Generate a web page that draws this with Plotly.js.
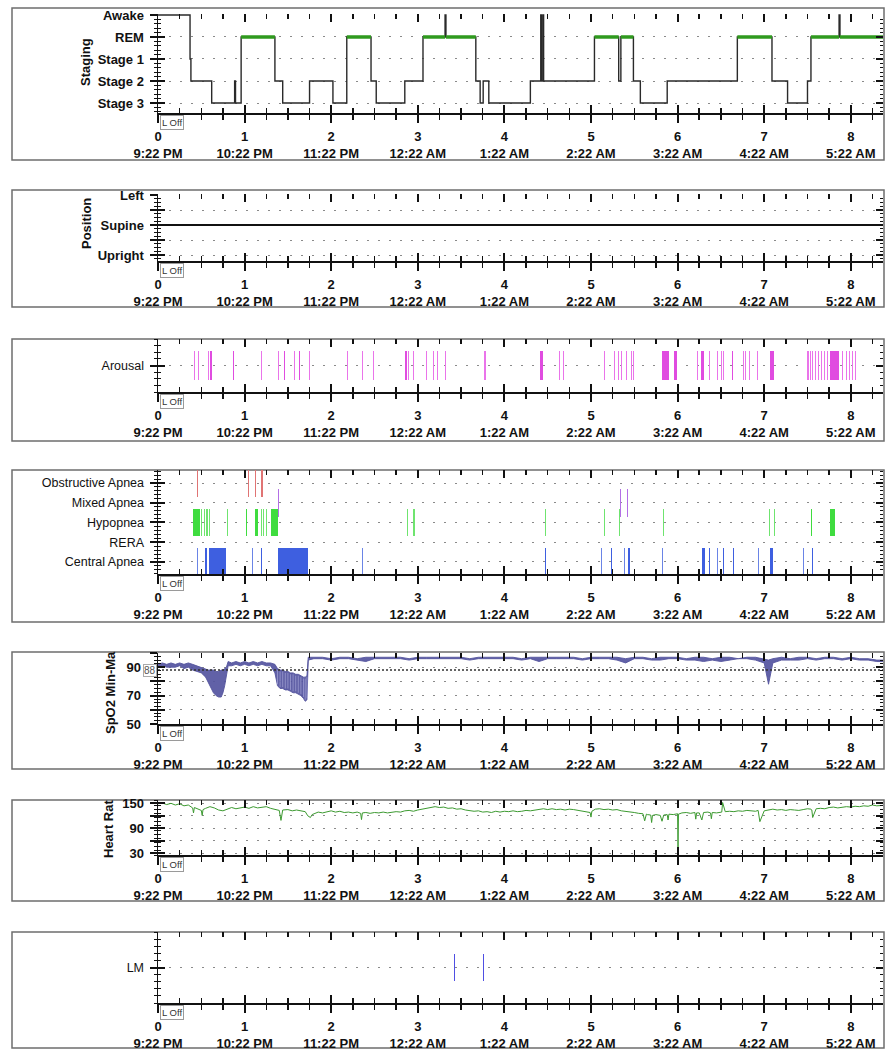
<!DOCTYPE html>
<html><head><meta charset="utf-8">
<script src="https://cdn.plot.ly/plotly-3.0.1.min.js"></script>
<style>html,body{margin:0;padding:0;background:#fff}#chart{width:886px;height:1050px}</style>
</head><body><div id="chart"></div>
<script>
// ---------- shared time axis ----------
const hourTicks = [0,1,2,3,4,5,6,7,8];
const clockLabels = ['9:22 PM','10:22 PM','11:22 PM','12:22 AM','1:22 AM','2:22 AM','3:22 AM','4:22 AM','5:22 AM'];
const recordEnd = 8.372;

// ---------- staging ----------
const stagingLabels = ['Stage 3','Stage 2','Stage 1','REM','Awake'];
const stageTimes = [0,0.37,0.38,0.62,0.885,0.895,0.96,1.35,1.44,1.75,2.02,2.18,2.46,2.52,2.85,3.06,3.315,3.325,3.67,3.72,3.755,3.82,4.30,4.42,4.428,4.445,4.453,5.04,5.32,5.345,5.49,5.57,5.88,6.69,7.09,7.27,7.50,7.54,7.865,7.875,8.372];
const stageNames = ['Awake','Stage 1','Stage 2','Stage 3','Stage 2','Stage 3','REM','Stage 2','Stage 3','Stage 2','Stage 3','REM','Stage 2','Stage 3','Stage 2','REM','Awake','REM','Stage 2','Stage 3','Stage 2','Stage 3','Stage 2','Awake','Stage 2','Awake','Stage 2','REM','Stage 2','REM','Stage 2','Stage 3','Stage 2','REM','Stage 2','Stage 3','Stage 2','REM','Awake','REM','REM'];

// ---------- position ----------
const positionLabels = ['Upright','','Supine','','Left'];
const positionTimes = [0, 8.372];
const positionNames = ['Supine','Supine'];

// ---------- arousal ----------
const arousalLabels = ['Arousal'];
const arousalStart = [0.41,0.46,0.575,0.605,0.865,1.19,1.385,1.455,1.575,1.625,1.74,2.18,2.36,2.48,2.855,2.89,2.94,3.09,3.18,3.22,3.31,3.77,4.415,4.63,4.68,5.145,5.27,5.31,5.35,5.40,5.46,5.49,5.825,5.96,6.22,6.275,6.36,6.46,6.50,6.52,6.63,6.75,6.78,6.82,6.92,7.07,7.50,7.53,7.55,7.59,7.62,7.66,7.69,7.73,7.765,7.90,7.94,7.98,8.015,8.05];
const arousalDur   = [0.012,0.012,0.012,0.015,0.015,0.012,0.012,0.015,0.012,0.02,0.012,0.012,0.012,0.012,0.015,0.012,0.012,0.012,0.012,0.012,0.012,0.012,0.03,0.012,0.012,0.012,0.012,0.012,0.012,0.012,0.012,0.012,0.075,0.03,0.012,0.035,0.012,0.012,0.012,0.012,0.015,0.012,0.012,0.012,0.012,0.04,0.012,0.012,0.012,0.012,0.012,0.012,0.012,0.012,0.095,0.012,0.012,0.012,0.012,0.012];

// ---------- respiratory events ----------
const eventLabels = ['Central Apnea','RERA','Hypopnea','Mixed Apnea','Obstructive Apnea'];
const obstructiveStart = [0.445,1.04,1.115,1.195];
const obstructiveDur   = [0.012,0.012,0.012,0.012];
const mixedStart = [1.38,5.33,5.41];
const mixedDur   = [0.012,0.012,0.012];
const hypopneaStart = [0.40,0.50,0.53,0.56,0.59,0.80,1.015,1.12,1.19,1.21,1.25,1.31,2.87,2.95,4.47,5.15,5.32,5.83,7.05,7.11,7.54,7.76];
const hypopneaDur   = [0.08,0.012,0.012,0.012,0.012,0.012,0.015,0.03,0.012,0.012,0.012,0.08,0.012,0.012,0.012,0.012,0.012,0.012,0.012,0.012,0.015,0.06];
const centralStart = [0.45,0.54,0.59,1.08,1.19,1.39,2.36,4.47,5.11,5.23,5.38,5.43,5.82,6.28,6.36,6.45,6.52,6.64,6.93,7.07,7.45,7.55];
const centralDur   = [0.012,0.03,0.20,0.012,0.015,0.34,0.012,0.015,0.012,0.015,0.012,0.015,0.012,0.04,0.015,0.012,0.015,0.015,0.012,0.035,0.012,0.015];

// ---------- SpO2 ----------
const spo2TickVals = [50,60,70,80,90,100];
const spo2TickText = ['50','','70','','90',''];
const spo2Threshold = 88;
const spo2StripeFrom = 1.37, spo2StripeTo = 1.73;
const spo2T   = [0,0.05,0.10,0.15,0.20,0.25,0.30,0.35,0.40,0.45,0.50,0.55,0.58,0.61,0.64,0.67,0.70,0.73,0.75,0.77,0.79,0.81,0.85,0.90,0.95,1.00,1.05,1.10,1.15,1.20,1.25,1.30,1.35,1.38,1.41,1.44,1.47,1.50,1.53,1.56,1.59,1.62,1.65,1.68,1.70,1.72,1.735,1.80,1.90,2.00,2.10,2.20,2.30,2.40,2.50,2.60,2.70,2.80,2.90,3.00,3.10,3.20,3.30,3.40,3.50,3.60,3.70,3.80,3.90,4.00,4.10,4.20,4.30,4.40,4.50,4.60,4.70,4.80,4.90,5.00,5.10,5.20,5.30,5.40,5.50,5.60,5.70,5.80,5.90,6.00,6.10,6.20,6.30,6.40,6.50,6.60,6.70,6.80,6.90,7.00,7.05,7.10,7.20,7.30,7.40,7.50,7.60,7.70,7.80,7.90,8.00,8.10,8.20,8.30,8.372];
const spo2Max = [92,93,92,93,92,93,92,93,92,91,90,89,88,88,88,87,87,88,88,89,90,94,93,94,93,94,93,94,93,94,93,93,92,89,88,88,87,87,86,86,85,85,84,83,83,84,97,97,97,96,97,97,96,97,97,97,97,97,96,97,97,97,97,97,97,96,97,97,97,97,97,96,97,97,97,97,97,97,96,97,97,97,97,96,97,97,96,97,97,97,96,97,97,96,97,97,96,97,97,96,95,96,97,96,97,97,96,97,97,96,97,96,96,95,95];
const spo2Min = [90,91,90,90,90,91,89,90,88,87,86,83,79,75,72,70,69,69,72,77,84,91,91,92,91,92,91,92,91,92,91,91,86,77,75,75,74,74,73,72,72,71,70,68,66,67,95,96,96,95,96,96,95,94,96,96,96,96,95,96,96,96,96,96,96,95,96,96,96,96,96,95,96,94,96,96,96,96,95,96,96,96,95,93,96,96,95,95,96,96,95,95,94,95,94,95,96,96,95,93,78,93,95,95,95,96,95,96,96,95,96,95,95,94,94];

// ---------- heart rate ----------
const hrTickVals = [30,60,90,120,150];
const hrTickText = ['30','','90','','150'];
const hrT = [0,0.05,0.10,0.15,0.20,0.25,0.30,0.35,0.40,0.41,0.42,0.45,0.50,0.51,0.52,0.55,0.60,0.65,0.70,0.75,0.80,0.85,0.90,0.95,1.00,1.05,1.10,1.15,1.20,1.25,1.30,1.35,1.40,1.42,1.44,1.50,1.55,1.60,1.65,1.70,1.73,1.76,1.78,1.80,1.85,1.90,1.95,2.00,2.05,2.10,2.15,2.20,2.25,2.30,2.34,2.35,2.36,2.40,2.45,2.50,2.55,2.60,2.65,2.70,2.75,2.80,2.85,2.90,2.95,3.00,3.05,3.10,3.15,3.20,3.25,3.30,3.35,3.40,3.45,3.50,3.55,3.60,3.65,3.70,3.75,3.80,3.85,3.90,3.95,4.00,4.05,4.10,4.15,4.20,4.25,4.30,4.35,4.40,4.45,4.50,4.55,4.60,4.65,4.70,4.75,4.80,4.85,4.90,4.95,4.99,5.00,5.01,5.05,5.10,5.15,5.20,5.25,5.30,5.35,5.40,5.45,5.50,5.55,5.60,5.62,5.64,5.65,5.69,5.70,5.71,5.75,5.80,5.82,5.84,5.88,5.89,5.90,5.95,6.00,6.005,6.01,6.05,6.10,6.15,6.20,6.21,6.22,6.25,6.28,6.30,6.35,6.38,6.39,6.40,6.45,6.50,6.51,6.52,6.55,6.60,6.65,6.70,6.75,6.80,6.85,6.90,6.93,6.95,7.00,7.05,7.10,7.15,7.20,7.25,7.30,7.35,7.40,7.45,7.50,7.54,7.55,7.56,7.60,7.65,7.70,7.75,7.80,7.85,7.90,7.95,8.00,8.05,8.10,8.15,8.20,8.25,8.30,8.372];
const hrV = [149,151,147,150,146,149,144,146,139,127,140,137,133,121,135,138,142,139,134,132,136,140,137,139,141,138,142,139,141,142,138,136,133,109,134,135,132,134,132,130,120,116,123,125,129,127,130,132,129,131,128,129,127,129,126,111,127,128,126,128,127,129,127,128,130,129,132,133,131,134,136,137,139,142,140,141,138,139,136,137,134,133,131,132,129,130,128,131,129,131,130,132,130,131,133,132,134,136,137,135,137,135,136,134,136,135,133,132,130,128,117,131,136,137,135,136,134,135,132,131,129,128,126,125,108,124,123,122,104,121,123,121,107,122,123,110,124,123,125,42,124,127,128,126,128,112,127,127,110,128,129,127,113,128,127,130,129,152,130,131,130,132,131,133,132,131,133,106,132,134,136,134,135,133,135,134,133,135,137,136,134,116,137,138,137,140,141,139,141,142,141,143,142,144,143,146,144,145,143];

// ---------- leg movements ----------
const lmLabels = ['LM'];
const lmStart = [3.415,3.755];
const lmDur   = [0.012,0.012];

// =====================================================
const W = 886, H = 1050;
const XL = 158, XR = 883;
const xDom = [XL/W, XR/W];
const yDom = (top, bot) => [1 - bot/H, 1 - top/H];

const panels = [
  {plot:[14,113],  box:[8,160],   range:[-0.4545,4.045], tv:[0,1,2,3,4], tt:stagingLabels, bold:true,  minor:0.2},
  {plot:[194,261], box:[190,307], range:[-0.4,4.067],    tv:[0,1,2,3,4], tt:positionLabels, bold:true, minor:0.25},
  {plot:[339,392], box:[339,441], range:[-1,1],          tv:[0], tt:arousalLabels, bold:false, minor:0.25},
  {plot:[470,574], box:[470,622], range:[-0.608,4.658],  tv:[0,1,2,3,4], tt:eventLabels, bold:false, minor:0.2},
  {plot:[653,724], box:[652,769], range:[50,100],        tv:spo2TickVals, tt:spo2TickText, bold:true, minor:2.5, grid:[60,70,80,90], standoff:6},
  {plot:[800,855], box:[800,901], range:[26,158],        tv:hrTickVals, tt:hrTickText, bold:true, minor:10},
  {plot:[932,1003],box:[932,1048],range:[-1,1],          tv:[0], tt:lmLabels, bold:false, minor:0.2}
];

const layout = {
  width: W, height: H, margin:{l:0,r:0,t:0,b:0},
  paper_bgcolor:'#fff', plot_bgcolor:'rgba(0,0,0,0)',
  showlegend:false, barmode:'overlay', bargap:0,
  font:{family:'Liberation Sans, Arial, sans-serif', color:'#111'},
  shapes:[], annotations:[]
};
const data = [];
const N = panels.length;
const ink = '#111';

panels.forEach((p, k) => {
  const i = k+1, o = k+1+N;
  const dom = yDom(p.plot[0], p.plot[1]);
  const xt = hourTicks.map((h,j)=> h + '<br>' + clockLabels[j]);
  layout['xaxis'+i] = {
    domain:xDom, range:[0,recordEnd], anchor:'y'+i, fixedrange:true,
    tickmode:'array', tickvals:hourTicks, ticktext:xt,
    ticks:'outside', ticklen:8, tickwidth:2, tickcolor:ink,
    showline:true, linewidth:2, linecolor:ink, showgrid:false, zeroline:false,
    tickfont:{size:13, color:ink, weight:'bold'}, ticklabelstandoff:2,
    minor:{tickmode:'linear', tick0:0, dtick:0.25, ticks:'outside', ticklen:5, tickwidth:1.5, tickcolor:ink, showgrid:false}
  };
  layout['xaxis'+o] = {
    domain:xDom, range:[0,recordEnd], anchor:'y'+i, overlaying:'x'+i, fixedrange:true,
    tickmode:'array', tickvals:hourTicks, ticks:'inside', ticklen:8, tickwidth:2, tickcolor:ink,
    mirror:'ticks', showline:false, showticklabels:false, showgrid:false, zeroline:false,
    minor:{tickmode:'linear', tick0:0, dtick:0.25, ticks:'inside', ticklen:5, tickwidth:1.5, tickcolor:ink, showgrid:false}
  };
  const mt0 = p.range[0] < 0 ? 0 : p.range[0];
  layout['yaxis'+i] = {
    domain:dom, range:p.range, anchor:'x'+i, fixedrange:true,
    tickmode:'array', tickvals:p.tv, ticktext:p.tt,
    ticks:'outside', ticklen:7, tickwidth:2, tickcolor:ink, ticklabelstandoff: p.standoff || 3,
    showline:true, linewidth:1.5, linecolor:ink, zeroline:false,
    showgrid:!p.grid, gridcolor:'#8a8a8a', gridwidth:1, griddash:'2px,9px',
    tickfont:{size: p.bold?13:12.5, color:ink, weight: p.bold?'bold':'normal'},
    minor:{tickmode:'linear', tick0:mt0, dtick:p.minor, ticks:'outside', ticklen:3, tickwidth:1, tickcolor:ink, showgrid:false}
  };
  layout['yaxis'+o] = {
    domain:dom, range:p.range, anchor:'x'+i, overlaying:'y'+i, fixedrange:true,
    tickmode:'array', tickvals:p.grid || p.tv, ticks:'inside', ticklen:7, tickwidth:2, tickcolor:ink,
    mirror:'ticks', showline:false, showticklabels:false, zeroline:false,
    showgrid:!!p.grid, gridcolor:'#8a8a8a', gridwidth:1, griddash:'2px,9px',
    minor:{tickmode:'linear', tick0:mt0, dtick:p.minor, ticks:'inside', ticklen:3, tickwidth:1, tickcolor:ink, showgrid:false}
  };
  data.push({x:[], y:[], xaxis:'x'+o, yaxis:'y'+i, type:'scatter', mode:'lines', hoverinfo:'skip'});
  data.push({x:[], y:[], xaxis:'x'+i, yaxis:'y'+o, type:'scatter', mode:'lines', hoverinfo:'skip'});
  // panel box
  layout.shapes.push({type:'rect', xref:'paper', yref:'paper', x0:12/W, x1:884/W, y0:1-p.box[1]/H, y1:1-p.box[0]/H,
    line:{color:'#6e6e6e', width:1.5}, fillcolor:'rgba(0,0,0,0)', layer:'below'});
  // "L Off" marker
  layout.annotations.push({xref:'x'+i, yref:'paper', x:0, y:dom[0], xanchor:'left', yanchor:'top', xshift:2, yshift:-2,
    text:'L Off', showarrow:false, font:{size:9.5, color:'#333'}, bordercolor:'#9a9a9a', borderwidth:1, borderpad:1, bgcolor:'#fff'});
});

// ---- staging traces
const stageLevel = n => stagingLabels.indexOf(n);
data.push({x:stageTimes, y:stageNames.map(stageLevel), xaxis:'x1', yaxis:'y1', type:'scatter', mode:'lines',
  line:{shape:'hv', color:'#2a2a2a', width:1.4}, hoverinfo:'skip'});
const remX = [], remY = [];
stageNames.forEach((n,j)=>{ if(n==='REM' && j<stageTimes.length-1){ remX.push(stageTimes[j], stageTimes[j+1], null); remY.push(stageLevel('REM'), stageLevel('REM'), null);} });
data.push({x:remX, y:remY, xaxis:'x1', yaxis:'y1', type:'scatter', mode:'lines', line:{color:'#2f9a1e', width:3.5}, hoverinfo:'skip'});

// ---- position
data.push({x:positionTimes, y:positionNames.map(n=>positionLabels.indexOf(n)), xaxis:'x2', yaxis:'y2', type:'scatter', mode:'lines',
  line:{color:'#111', width:1.8}, hoverinfo:'skip'});

// ---- bar helper (darker colour for longer events)
function eventBars(start, dur, level, half, colorThin, colorWide, ax){
  return {type:'bar', x:start.map((s,j)=>s+dur[j]/2), width:dur, base:start.map(()=>level-half), y:start.map(()=>2*half),
    xaxis:'x'+ax, yaxis:'y'+ax, marker:{color:dur.map(d=> d>0.013 ? colorWide : colorThin), line:{width:0}}, hoverinfo:'skip'};
}
data.push(eventBars(arousalStart, arousalDur, 0, 0.53, '#ea74ea', '#e04ce0', 3));
data.push(eventBars(obstructiveStart, obstructiveDur, eventLabels.indexOf('Obstructive Apnea'), 0.7, '#e07474', '#e07474', 4));
data.push(eventBars(mixedStart, mixedDur, eventLabels.indexOf('Mixed Apnea'), 0.7, '#b36fe6', '#b36fe6', 4));
data.push(eventBars(hypopneaStart, hypopneaDur, eventLabels.indexOf('Hypopnea'), 0.7, '#6fe46f', '#3fdc3f', 4));
data.push(eventBars(centralStart, centralDur, eventLabels.indexOf('Central Apnea'), 0.7, '#6a84e6', '#3e5fe0', 4));
data.push(eventBars(lmStart, lmDur, 0, 0.38, '#4f4fe3', '#4f4fe3', 7));

// ---- SpO2 (min-max band)
data.push({x:spo2T, y:spo2Max, xaxis:'x5', yaxis:'y5', type:'scatter', mode:'lines', line:{color:'#55559e', width:0.9}, hoverinfo:'skip'});
data.push({x:spo2T, y:spo2Min, xaxis:'x5', yaxis:'y5', type:'scatter', mode:'lines', fill:'tonexty', fillcolor:'rgba(84,84,160,0.92)', line:{color:'#55559e', width:0.9}, hoverinfo:'skip'});
const stripeX = [], stripeY = [];
spo2T.forEach((t,j)=>{ if(t>spo2StripeFrom && t<spo2StripeTo){ stripeX.push(t,t,null); stripeY.push(spo2Min[j]+1, spo2Max[j]-1, null);} });
data.push({x:stripeX, y:stripeY, xaxis:'x5', yaxis:'y5', type:'scatter', mode:'lines', line:{color:'rgba(200,200,240,0.45)', width:1}, hoverinfo:'skip'});
data.push({x:[0,recordEnd], y:[spo2Threshold, spo2Threshold], xaxis:'x5', yaxis:'y5', type:'scatter', mode:'lines', line:{color:'#333', width:1.5, dash:'2px,2px'}, hoverinfo:'skip'});
layout.annotations.push({xref:'paper', yref:'y5', x:XL/W, y:spo2Threshold, xanchor:'right', yanchor:'middle', xshift:-1,
  text:String(spo2Threshold), showarrow:false, font:{size:10, color:'#555'}, bordercolor:'#aaa', borderwidth:1, borderpad:0, bgcolor:'#fff'});

// ---- heart rate
data.push({x:hrT, y:hrV, xaxis:'x6', yaxis:'y6', type:'scatter', mode:'lines', line:{color:'#3c9a30', width:1}, hoverinfo:'skip'});

// ---- y titles
const yTitles = [
  {text:'Staging', x:86, y:62},
  {text:'Position', x:86, y:224},
  {text:'SpO2 Min-Ma', x:110, y:693},
  {text:'Heart Rat', x:108, y:829}
];
yTitles.forEach(t=> layout.annotations.push({xref:'paper', yref:'paper', x:t.x/W, y:1-t.y/H, xanchor:'center', yanchor:'middle',
  text:t.text, textangle:-90, showarrow:false, font:{size:13, color:'#111', weight:'bold'}}));

Plotly.newPlot('chart', data, layout, {staticPlot:true, displayModeBar:false});
</script></body></html>
